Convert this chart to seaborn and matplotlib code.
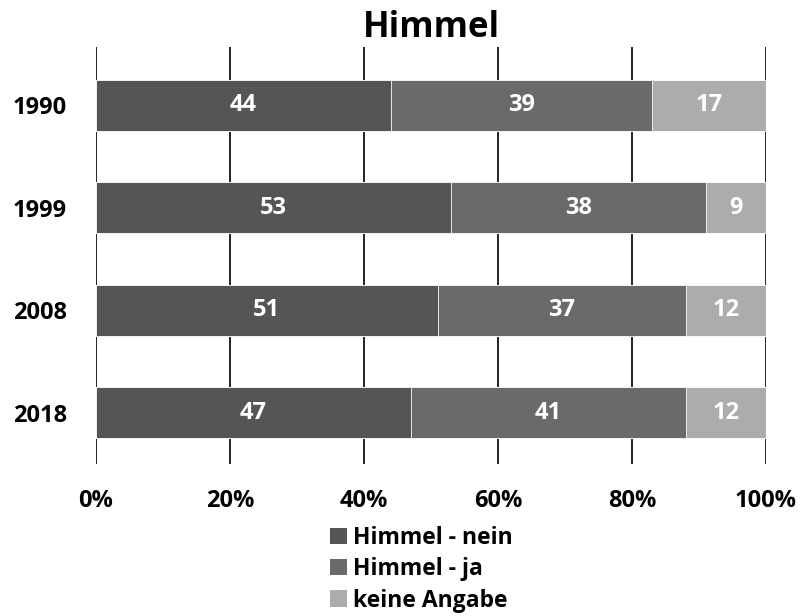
import numpy as np
import pandas as pd
import matplotlib
matplotlib.use("Agg")
import matplotlib.pyplot as plt
import seaborn as sns
from matplotlib.patches import Patch

years = ["1990", "1999", "2008", "2018"]
nein = [44, 53, 51, 47]
ja = [39, 38, 37, 41]
keine = [17, 9, 12, 12]
series_names = ["Himmel - nein", "Himmel - ja", "keine Angabe"]
colors = ["#555555", "#6a6a6a", "#acacac"]
ticks = [0, 20, 40, 60, 80, 100]
tick_labels = ["0%", "20%", "40%", "60%", "80%", "100%"]

sns.set_theme(style="white")
plt.rcParams["font.family"] = ["Open Sans", "DejaVu Sans"]
plt.rcParams["font.weight"] = "bold"
plt.rcParams["text.color"] = "black"
plt.rcParams["axes.labelcolor"] = "black"
plt.rcParams["xtick.color"] = "black"
plt.rcParams["ytick.color"] = "black"

FS = 17

series = [nein, ja, keine]
cum = np.cumsum(np.array(series, dtype=float), axis=0)

fig = plt.figure(figsize=(8.02, 6.16), dpi=100)
ax = fig.add_axes([0.1197, 0.2468, 0.8354, 0.677])

# Stack by drawing cumulative totals from the outermost segment inwards
for i in range(len(series) - 1, -1, -1):
    df = pd.DataFrame({"year": years, "value": cum[i]})
    sns.barplot(data=df, x="value", y="year", order=years, orient="h",
                color=colors[i], saturation=1, width=0.5,
                edgecolor="white", linewidth=0.6, ax=ax, zorder=3)

for i, vals in enumerate(series):
    for j, v in enumerate(vals):
        ax.text(cum[i][j] - v / 2, j, f"{v}", ha="center", va="center",
                color="white", fontsize=FS, fontweight="bold", zorder=5)

ax.set_xlim(0, 100)
ax.set_ylim(3.5, -0.57)
ax.set_xticks(ticks)
ax.set_xticklabels(tick_labels, fontsize=FS, fontweight="bold", color="black")
ax.set_yticks(range(len(years)))
ax.set_yticklabels(years, fontsize=FS, fontweight="bold", color="black")
ax.tick_params(axis="x", length=0, pad=18)
ax.tick_params(axis="y", length=0, pad=21)
ax.set_xlabel("")
ax.set_ylabel("")
for s in ax.spines.values():
    s.set_visible(False)
ax.grid(False)
for t in ticks:
    ax.axvline(t, color="black", linewidth=1.2, zorder=1)

ax.set_title("Himmel", fontsize=25, fontweight="bold", pad=7, color="black")

handles = [Patch(facecolor=c, edgecolor="none") for c in colors]
leg = fig.legend(handles, series_names, loc="upper left",
                 bbox_to_anchor=(330 / 802, 1 - 526 / 616), ncol=1, frameon=False,
                 prop={"size": 16.5, "weight": "bold"}, handlelength=0.72,
                 handleheight=0.72, handletextpad=0.3, labelspacing=0.32,
                 borderpad=0, borderaxespad=0)
for txt in leg.get_texts():
    txt.set_color("black")

fig.savefig("out.png", dpi=100)
